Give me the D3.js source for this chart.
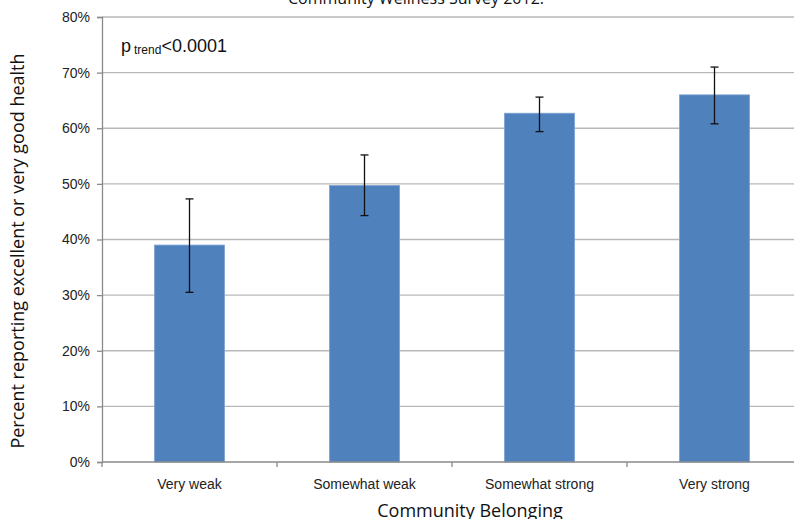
<!DOCTYPE html>
<html>
<head>
<meta charset="utf-8">
<script src="https://cdn.jsdelivr.net/npm/d3@7"></script>
<style>
  html, body { margin: 0; padding: 0; background: #fff; }
  svg { display: block; }
  .tick-label { font-family: "Liberation Sans Narrow", "Arial Narrow", "Liberation Sans", sans-serif; font-size: 14px; fill: #222; }
  .axis-title { font-family: "Open Sans", "Liberation Sans", sans-serif; font-size: 18px; fill: #111; }
</style>
</head>
<body>
<script>
// Share reporting excellent / very good health by sense of community belonging
const categories = ["Very weak", "Somewhat weak", "Somewhat strong", "Very strong"];
const percentValues = [39.0, 49.7, 62.7, 66.0];
const lowerCI = [30.5, 44.3, 59.4, 60.8];
const upperCI = [47.3, 55.2, 65.6, 71.0];
const yTicks = [0, 10, 20, 30, 40, 50, 60, 70, 80];

const W = 794, H = 519;
const margin = { left: 102, top: 17, bottom: 57 };
const plotRight = 802; // the last category band runs past the page edge

const svg = d3.select("body").append("svg")
  .attr("width", W).attr("height", H);

const x = d3.scaleBand().domain(categories)
  .range([margin.left, plotRight]).paddingInner(0).paddingOuter(0);
const y = d3.scaleLinear().domain([0, 80]).range([H - margin.bottom, margin.top]);

// Horizontal gridlines
svg.append("g").selectAll("line").data(yTicks.slice(1)).join("line")
  .attr("x1", margin.left).attr("x2", W)
  .attr("y1", d => y(d)).attr("y2", d => y(d))
  .attr("stroke", "#b8b8b8").attr("stroke-width", 1.3);

// Bars
const barW = x.bandwidth() * 0.4;
svg.append("g").selectAll("rect").data(categories).join("rect")
  .attr("x", d => x(d) + (x.bandwidth() - barW) / 2)
  .attr("width", barW)
  .attr("y", (d, i) => y(percentValues[i]))
  .attr("height", (d, i) => y(0) - y(percentValues[i]))
  .attr("fill", "#4f81bd")
  .attr("stroke", "#7aa2d4").attr("stroke-width", 0.8);

// Error bars
const eb = svg.append("g").attr("stroke", "#111").attr("stroke-width", 1.3);
categories.forEach((c, i) => {
  const cx = x(c) + x.bandwidth() / 2;
  eb.append("line").attr("x1", cx).attr("x2", cx)
    .attr("y1", y(lowerCI[i])).attr("y2", y(upperCI[i]));
  [lowerCI[i], upperCI[i]].forEach(v => {
    eb.append("line").attr("x1", cx - 4).attr("x2", cx + 4)
      .attr("y1", y(v)).attr("y2", y(v));
  });
});

// Y axis
const yAxis = svg.append("g").attr("transform", `translate(${margin.left},0)`)
  .call(d3.axisLeft(y).tickValues(yTicks).tickFormat(d => d + "%").tickSize(5).tickPadding(7));
yAxis.select(".domain").attr("stroke", "#8a8a8a").attr("stroke-width", 1.3);
yAxis.selectAll(".tick line").attr("stroke", "#8a8a8a").attr("stroke-width", 1.3);
yAxis.selectAll(".tick text").attr("class", "tick-label").attr("fill", null);

// X axis
const xAxis = svg.append("g").attr("transform", `translate(0,${y(0)})`)
  .call(d3.axisBottom(x).tickSize(0).tickPadding(17));
xAxis.select(".domain").attr("stroke", "#8a8a8a").attr("stroke-width", 1.3).attr("d", `M${margin.left},0H${W}`);
xAxis.selectAll(".tick text").attr("class", "tick-label").attr("fill", null);
// Category separators below the axis
svg.append("g").selectAll("line").data(categories).join("line")
  .attr("x1", d => x(d)).attr("x2", d => x(d))
  .attr("y1", y(0)).attr("y2", y(0) + 5)
  .attr("stroke", "#8a8a8a").attr("stroke-width", 1.3);

// Axis titles
svg.append("text").attr("class", "axis-title")
  .attr("x", 470).attr("y", 517)
  .attr("text-anchor", "middle").text("Community Belonging");
svg.append("text").attr("class", "axis-title")
  .attr("transform", `translate(24,251) rotate(-90)`)
  .attr("text-anchor", "middle").text("Percent reporting excellent or very good health");

// Chart title, partly above the page edge
svg.append("text").attr("class", "axis-title")
  .attr("x", 416).attr("y", 4).attr("text-anchor", "middle")
  .style("font-size", "16px")
  .text("Community Wellness Survey 2012.");

// Trend test annotation
const pt = svg.append("text").attr("x", 121).attr("y", 52)
  .attr("font-family", "Liberation Sans, Arial, sans-serif").attr("font-size", 18).attr("fill", "#111");
pt.append("tspan").text("p");
pt.append("tspan").attr("font-size", 12).attr("dx", 3).attr("dy", 2).text("trend");
pt.append("tspan").attr("dy", -2).text("<0.0001");
</script>
</body>
</html>
